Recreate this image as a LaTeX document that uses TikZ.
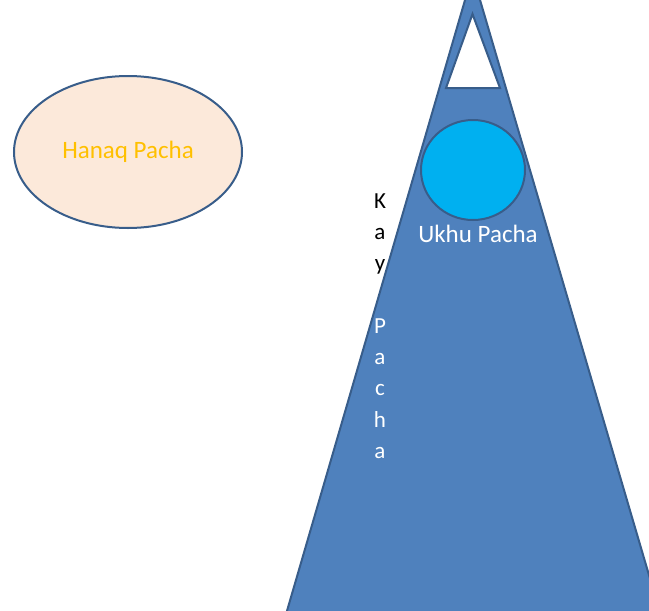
\documentclass[tikz,border=0pt]{standalone}
\usepackage{fontspec}
\setmainfont{Carlito}
\usetikzlibrary{shapes.geometric}
\definecolor{mountfill}{HTML}{4F81BD}
\definecolor{mountedge}{HTML}{385D8A}
\definecolor{lakefill}{HTML}{00B0F0}
\definecolor{skyfill}{HTML}{FCE9DA}
\definecolor{skytext}{HTML}{FFC000}
\tikzset{
  world/.style={line width=2pt, draw=mountedge},
  letters/.style={font=\fontsize{23}{31.4}\selectfont, align=center, inner sep=0pt}
}
\begin{document}
\begin{tikzpicture}[x=1pt,y=-1pt]
   \useasboundingbox (0,0) rectangle (649,611);
   \clip (0,0) rectangle (649,611);
   % mountain
   \draw[world,fill=mountfill]
   (472.5,-25.6) -- (671,650) -- (275.6,650) -- cycle;
   \draw[world,fill=white]
   (472.5,14) -- (500,88) -- (446,88) -- cycle;
   % lake and sky
   \node[world,ellipse,fill=lakefill,minimum width=104pt,minimum height=100pt,inner sep=0pt]
   (ukhu) at (473,170) {};
   \node[font=\fontsize{25}{30}\selectfont,text=white] (ukhulabel) at (478,234) {Ukhu Pacha};
   \node[world,ellipse,fill=skyfill,minimum width=228pt,minimum height=152pt,inner sep=0pt]
   (hanaq) at (128,152) {};
   \node[font=\fontsize{25}{30}\selectfont,text=skytext] (hanaqlabel) at (hanaq) {Hanaq Pacha};
   % vertical name, base = last line
   \node[letters,anchor=base] (kay) at (380,270.8) {K\\a\\y};
   \node[letters,anchor=base,text=white] (pacha) at (380,458.6) {P\\a\\c\\h\\a};
 \end{tikzpicture}
\end{document}
